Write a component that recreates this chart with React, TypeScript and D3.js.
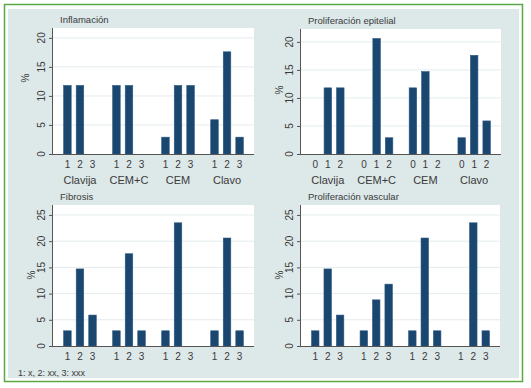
import React from 'react';
import * as d3 from 'd3';

// categories
const groups = ['Clavija', 'CEM+C', 'CEM', 'Clavo'];
const levels123 = ['1', '2', '3'];
const levels012 = ['0', '1', '2'];

// series values (%), one array per group
const inflamacion = [
   [11.8, 11.8, 0],
   [11.8, 11.8, 0],
   [2.9, 11.8, 11.8],
   [5.9, 17.6, 2.9],
];
const epitelial = [
   [0, 11.8, 11.8],
   [0, 20.6, 2.9],
   [11.8, 14.7, 0],
   [2.9, 17.6, 5.9],
];
const fibrosis = [
   [2.9, 14.7, 5.9],
   [2.9, 17.6, 2.9],
   [2.9, 23.5, 0],
   [2.9, 20.6, 2.9],
];
const vascular = [
   [2.9, 14.7, 5.9],
   [2.9, 8.8, 11.8],
   [2.9, 20.6, 2.9],
   [0, 23.5, 2.9],
];

const ticksTop = [0, 5, 10, 15, 20];
const ticksBottom = [0, 5, 10, 15, 20, 25];
const footnote = '1: x, 2: xx, 3: xxx';

const BAR = '#1a476f';
const FONT = '"Liberation Sans", Arial, sans-serif';
const TEXT = '#3a3a3a';

type PanelProps = {
   title: string;
   values: number[][];
   levels: string[];
   ticks: number[];
   yMax: number;
   box: { x0: number; x1: number; y0: number; y1: number };
   pct: { x: number; y: number };
   showGroups: boolean;
};

const Panel = ({ title, values, levels, ticks, yMax, box, pct, showGroups }: PanelProps) => {
   const y = d3.scaleLinear().domain([0, yMax]).range([box.y1, box.y0]);
   const gx = d3.scaleBand().domain(groups).range([box.x0, box.x1]).paddingInner(0.13).paddingOuter(0.115);
   const bx = d3.scaleBand().domain(levels).range([0, gx.bandwidth()]).padding(0.4);

   return (
      <g>
         <text x={box.x0 + 7} y={box.y0 - 5} fontSize={9.5} fill={TEXT} fontFamily={FONT}>{title}</text>
         <rect x={box.x0} y={box.y0} width={box.x1 - box.x0} height={box.y1 - box.y0} fill="#ffffff" />
         {ticks.filter(t => t > 0).map(t => (
            <line key={t} x1={box.x0} x2={box.x1} y1={y(t)} y2={y(t)} stroke="#e3ecee" strokeWidth={1} />
         ))}
         {groups.map((g, gi) => (
            <g key={g}>
               {levels.map((l, li) => {
                  const v = values[gi][li];
                  const x = (gx(g) ?? 0) + (bx(l) ?? 0);
                  return (
                     <g key={l}>
                        {v > 0 && (
                           <rect x={x} y={y(v)} width={bx.bandwidth()} height={box.y1 - y(v)}
                              fill={BAR} stroke="#2b5680" strokeWidth={0.6} />
                        )}
                        <text x={x + bx.bandwidth() / 2} y={box.y1 + 14} fontSize={10} fill={TEXT}
                           fontFamily={FONT} textAnchor="middle">{l}</text>
                     </g>
                  );
               })}
               {showGroups && (
                  <text x={(gx(g) ?? 0) + gx.bandwidth() / 2} y={box.y1 + 30} fontSize={11} fill={TEXT}
                     fontFamily={FONT} textAnchor="middle">{g}</text>
               )}
            </g>
         ))}
         <line x1={box.x0} x2={box.x1} y1={box.y1 + 0.5} y2={box.y1 + 0.5} stroke="#555" strokeWidth={1} />
         <line x1={box.x0 - 0.5} x2={box.x0 - 0.5} y1={box.y0} y2={box.y1 + 0.5} stroke="#555" strokeWidth={1} />
         {ticks.map(t => (
            <g key={t}>
               <line x1={box.x0 - 4} x2={box.x0} y1={y(t) + 0.5} y2={y(t) + 0.5} stroke="#555" strokeWidth={1} />
               <text transform={`translate(${box.x0 - 8},${y(t)}) rotate(-90)`} fontSize={10} fill={TEXT}
                  fontFamily={FONT} textAnchor="middle">{t}</text>
            </g>
         ))}
         <text transform={`translate(${pct.x},${pct.y}) rotate(-90)`} fontSize={10} fill={TEXT}
            fontFamily={FONT} textAnchor="middle">%</text>
      </g>
   );
};

export default function App() {
   return (
      <svg width={531} height={388} style={{ position: 'absolute', left: 0, top: 0 }}>
         <rect x={0} y={0} width={531} height={388} fill="#ffffff" />
         <rect x={4.5} y={4.5} width={518} height={377} fill="#ffffff" stroke="#5aa846" strokeWidth={1.5} />
         <rect x={8} y={9} width={511} height={369} fill="#dde8e9" />
         <Panel title="Inflamación" values={inflamacion} levels={levels123} ticks={ticksTop} yMax={21.7}
            box={{ x0: 53, x1: 254, y0: 28, y1: 154 }} pct={{ x: 29, y: 78 }} showGroups />
         <Panel title="Proliferación epitelial" values={epitelial} levels={levels012} ticks={ticksTop} yMax={22.3}
            box={{ x0: 301, x1: 501, y0: 29, y1: 154 }} pct={{ x: 283, y: 90 }} showGroups />
         <Panel title="Fibrosis" values={fibrosis} levels={levels123} ticks={ticksBottom} yMax={26.9}
            box={{ x0: 53, x1: 254, y0: 205, y1: 346 }} pct={{ x: 35, y: 275 }} showGroups={false} />
         <Panel title="Proliferación vascular" values={vascular} levels={levels123} ticks={ticksBottom} yMax={26.9}
            box={{ x0: 301, x1: 500, y0: 205, y1: 346 }} pct={{ x: 283, y: 275 }} showGroups={false} />
         <text x={18} y={376} fontSize={9} fill={TEXT} fontFamily={FONT}>{footnote}</text>
      </svg>
   );
}
